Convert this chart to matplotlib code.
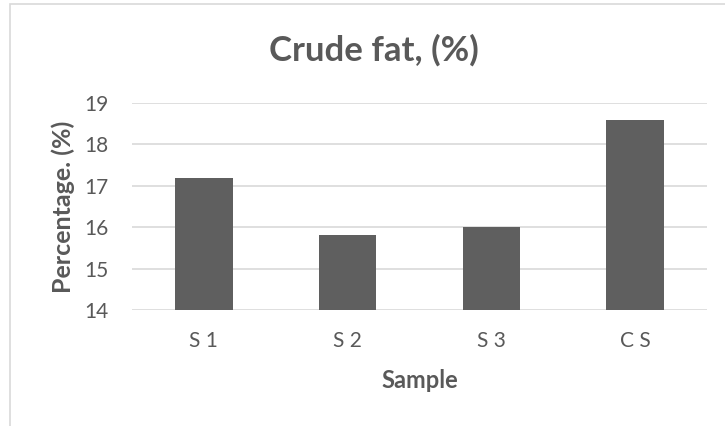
import matplotlib
matplotlib.use("Agg")
import matplotlib.pyplot as plt
from matplotlib.patches import Rectangle

categories = ["S 1", "S 2", "S 3", "C S"]
values = [17.2, 15.8, 16.0, 18.6]
yticks = [14, 15, 16, 17, 18, 19]

plt.rcParams['font.family'] = ['Lato', 'DejaVu Sans']
TXT = "#595959"
W, H = 725, 426
fig = plt.figure(figsize=(W / 100, H / 100), dpi=100)

# chart-area border (left and top visible)
fig.patches.append(Rectangle((10 / W, -0.1), 1.2, 1 - 4 / H + 0.1, transform=fig.transFigure,
                             fill=False, edgecolor="#d9d9d9", linewidth=1.2))

ax = fig.add_axes([132 / W, 1 - 310 / H, (707 - 132) / W, (310 - 103) / H])
x = range(len(categories))
ax.bar(x, values, width=0.4, color="#5f5f5f", bottom=0, zorder=3)
ax.set_ylim(14, 19)
ax.set_xlim(-0.5, len(categories) - 0.5)
ax.set_yticks(yticks)
ax.set_xticks(list(x))
ax.set_xticklabels(categories)
ax.yaxis.grid(True, color="#d9d9d9", linewidth=1.2, zorder=0)
for s in ax.spines.values():
    s.set_visible(False)
ax.tick_params(length=0, labelsize=15, colors=TXT)
ax.tick_params(axis='y', pad=17)
ax.tick_params(axis='x', pad=15)
fig.text(420 / W, 1 - 380 / H, "Sample", ha="center", va="center",
         fontsize=17, fontweight="bold", color=TXT)
fig.text(63 / W, 1 - 207 / H, "Percentage. (%)", ha="center", va="center", rotation=90,
         fontsize=18, fontweight="bold", color=TXT)
fig.text(374 / W, 1 - 50 / H, "Crude fat, (%)", ha="center", va="center",
         fontsize=25, fontweight="bold", color=TXT)

fig.savefig("out.png", dpi=100)
